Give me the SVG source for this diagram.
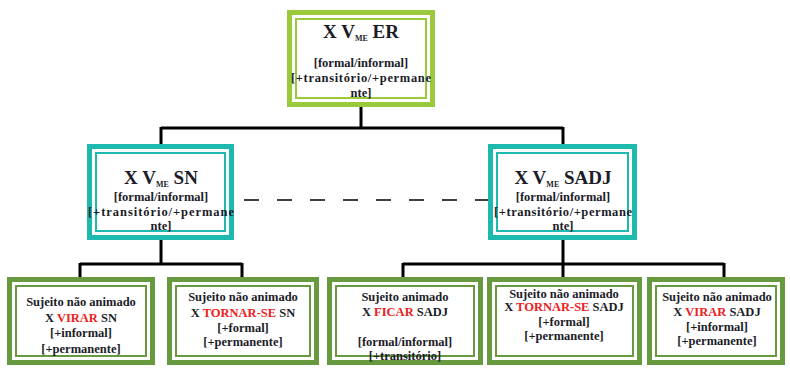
<svg xmlns="http://www.w3.org/2000/svg" width="790" height="371" viewBox="0 0 790 371">
<style>
.o{fill:#fff;stroke-width:5}
.i{fill:none;stroke-width:2}
.lg{stroke:#9BC93C}
.tl{stroke:#1DB8AE}
.dg{stroke:#67993F}
.t{font-family:"Liberation Serif","Times New Roman",serif;font-weight:bold;fill:#1c1c28;text-anchor:middle}
.h{font-size:19px}
.s{font-size:12.5px}
.sub{font-size:8px}
.r{fill:#EE2020}
.c{stroke:#000;stroke-width:3;fill:none}
</style>
<rect width="790" height="371" fill="#fff"/>
<g id="connectors">
<path class="c" d="M361 107V128M161 128H563M161 127V144M563 127V144"/>
<path class="c" d="M161 240V264M80 264H242M80 263V277M242 263V277"/>
<path class="c" d="M563 240V264M403 264H724M403 263V277M563 263V277M724 263V277"/>
<path d="M234 200H488" stroke="#000" stroke-width="1.5" stroke-dasharray="15,18" stroke-dashoffset="-10"/>
</g>
<g id="top">
<rect class="o lg" x="289.5" y="12.5" width="143" height="92"/>
<rect class="i lg" x="296" y="19" width="130" height="79"/>
<text class="t h" x="361" y="38">X V<tspan class="sub" dy="3">ME</tspan><tspan dy="-3"> ER</tspan></text>
<text class="t s" x="361" y="67">[formal/informal]</text>
<text class="t s" x="361" y="82" textLength="140" lengthAdjust="spacing">[+transitório/+permane</text>
<text class="t s" x="361" y="97">nte]</text>
</g>
<g id="mid-sn">
<rect class="o tl" x="89.5" y="146.5" width="142" height="91"/>
<rect class="i tl" x="96" y="153" width="129" height="78"/>
<text class="t h" x="161" y="184">X V<tspan class="sub" dy="3">ME</tspan><tspan dy="-3"> SN</tspan></text>
<text class="t s" x="161" y="201">[formal/informal]</text>
<text class="t s" x="161" y="216" textLength="146" lengthAdjust="spacing">[+transitório/+permane</text>
<text class="t s" x="161" y="230">nte]</text>
</g>
<g id="mid-sadj">
<rect class="o tl" x="490.5" y="146.5" width="144" height="91"/>
<rect class="i tl" x="497" y="153" width="131" height="78"/>
<text class="t h" x="563" y="184">X V<tspan class="sub" dy="3">ME</tspan><tspan dy="-3"> SADJ</tspan></text>
<text class="t s" x="563" y="201">[formal/informal]</text>
<text class="t s" x="563" y="216" textLength="138" lengthAdjust="spacing">[+transitório/+permane</text>
<text class="t s" x="563" y="230">nte]</text>
</g>
<g id="b1">
<rect class="o dg" x="9.5" y="279.5" width="143" height="83"/>
<rect class="i dg" x="16" y="286" width="130" height="70"/>
<text class="t s" x="81" y="306">Sujeito não animado</text>
<text class="t s" x="81" y="322">X <tspan class="r">VIRAR</tspan> SN</text>
<text class="t s" x="81" y="337">[+informal]</text>
<text class="t s" x="81" y="353">[+permanente]</text>
</g>
<g id="b2">
<rect class="o dg" x="169.5" y="279.5" width="147" height="83"/>
<rect class="i dg" x="176" y="286" width="134" height="70"/>
<text class="t s" x="243" y="301">Sujeito não animado</text>
<text class="t s" x="243" y="317">X <tspan class="r">TORNAR-SE</tspan> SN</text>
<text class="t s" x="243" y="332">[+formal]</text>
<text class="t s" x="243" y="346">[+permanente]</text>
</g>
<g id="b3">
<rect class="o dg" x="329.5" y="279.5" width="151" height="83"/>
<rect class="i dg" x="336" y="286" width="138" height="70"/>
<text class="t s" x="405" y="301">Sujeito animado</text>
<text class="t s" x="405" y="316">X <tspan class="r">FICAR</tspan> SADJ</text>
<text class="t s" x="405" y="346">[formal/informal]</text>
<text class="t s" x="405" y="360">[+transitório]</text>
</g>
<g id="b4">
<rect class="o dg" x="489.5" y="279.5" width="150" height="83"/>
<rect class="i dg" x="496" y="286" width="137" height="70"/>
<text class="t s" x="564" y="298">Sujeito não animado</text>
<text class="t s" x="564" y="311">X <tspan class="r">TORNAR-SE</tspan> SADJ</text>
<text class="t s" x="564" y="326">[+formal]</text>
<text class="t s" x="564" y="340">[+permanente]</text>
</g>
<g id="b5">
<rect class="o dg" x="649.5" y="279.5" width="133" height="83"/>
<rect class="i dg" x="656" y="286" width="120" height="70"/>
<text class="t s" x="717" y="301">Sujeito não animado</text>
<text class="t s" x="717" y="316">X <tspan class="r">VIRAR</tspan> SADJ</text>
<text class="t s" x="717" y="331">[+informal]</text>
<text class="t s" x="717" y="345">[+permanente]</text>
</g>
</svg>
